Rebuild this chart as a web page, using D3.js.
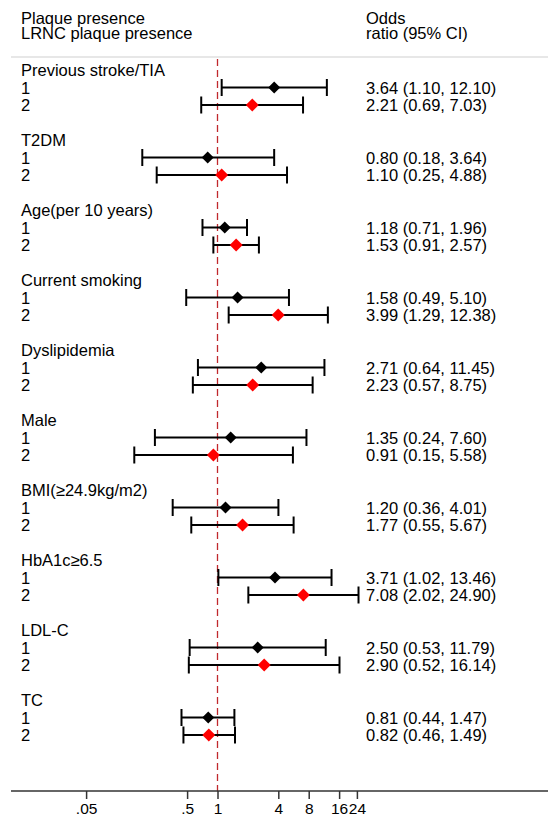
<!DOCTYPE html>
<html>
<head>
<meta charset="utf-8">
<script src="https://cdn.jsdelivr.net/npm/d3@7"></script>
<style>
  body { margin: 0; background: #fff; }
  svg text { font-family: "Liberation Sans", Arial, sans-serif; fill: #000; }
</style>
</head>
<body>
<svg width="548" height="819"></svg>
<script>
// groups and the two models (1 = plaque presence, 2 = LRNC plaque presence)
const groups = ["Previous stroke/TIA", "T2DM", "Age(per 10 years)", "Current smoking",
                "Dyslipidemia", "Male", "BMI(\u226524.9kg/m2)", "HbA1c\u22656.5", "LDL-C", "TC"];
const or1  = [3.64, 0.80, 1.18, 1.58, 2.71, 1.35, 1.20, 3.71, 2.50, 0.81];
const lo1  = [1.10, 0.18, 0.71, 0.49, 0.64, 0.24, 0.36, 1.02, 0.53, 0.44];
const hi1  = [12.10, 3.64, 1.96, 5.10, 11.45, 7.60, 4.01, 13.46, 11.79, 1.47];
const or2  = [2.21, 1.10, 1.53, 3.99, 2.23, 0.91, 1.77, 7.08, 2.90, 0.82];
const lo2  = [0.69, 0.25, 0.91, 1.29, 0.57, 0.15, 0.55, 2.02, 0.52, 0.46];
const hi2  = [7.03, 4.88, 2.57, 12.38, 8.75, 5.58, 5.67, 24.90, 16.14, 1.49];
const tickVals = [0.05, 0.5, 1, 4, 8, 16, 24];
const tickLabels = [".05", ".5", "1", "4", "8", "16", "24"];

const svg = d3.select("svg");
const fs = 16.5;

// x: log scale, y: row slots (4 per group: heading, 1, 2, blank)
const x = d3.scaleLog().domain([0.05, 24]).range([86.1, 356.9]);
const y = d3.scaleLinear().domain([0, 39]).range([70, 70 + 39 * 17.5]);

let rows = [];
groups.forEach((g, i) => {
  rows.push({k: "head", label: g, idx: i * 4});
  rows.push({k: 1, label: "1", idx: i * 4 + 1, or: or1[i], lo: lo1[i], hi: hi1[i]});
  rows.push({k: 2, label: "2", idx: i * 4 + 2, or: or2[i], lo: lo2[i], hi: hi2[i]});
});
const f2 = d3.format(".2f");

// header
svg.append("text").attr("x", 21).attr("y", 24).style("font-size", fs + "px").text("Plaque presence");
svg.append("text").attr("x", 21).attr("y", 39).style("font-size", fs + "px").text("LRNC plaque presence");
svg.append("text").attr("x", 366).attr("y", 24).style("font-size", fs + "px").text("Odds");
svg.append("text").attr("x", 366).attr("y", 39).style("font-size", fs + "px").text("ratio (95% CI)");
svg.append("line").attr("x1", 11).attr("x2", 548).attr("y1", 57).attr("y2", 57)
  .attr("stroke", "#cfcfcf").attr("stroke-width", 1);

// reference line at OR = 1
svg.append("line").attr("x1", x(1)).attr("x2", x(1)).attr("y1", 59).attr("y2", 791)
  .attr("stroke", "#c0282d").attr("stroke-width", 1.3).attr("stroke-dasharray", "7,4");

// labels
svg.selectAll(".lab").data(rows).enter().append("text")
  .attr("class", "lab")
  .attr("x", 21).attr("y", d => y(d.idx) + 6)
  .style("font-size", fs + "px")
  .text(d => d.label);

const est = rows.filter(d => d.k !== "head");

svg.selectAll(".ci").data(est).enter().append("text")
  .attr("class", "ci")
  .attr("x", 366).attr("y", d => y(d.idx) + 6)
  .style("font-size", fs + "px")
  .text(d => f2(d.or) + " (" + f2(d.lo) + ", " + f2(d.hi) + ")");

// CI bars with caps
const bars = svg.append("g").attr("stroke", "#000").attr("stroke-width", 2);
bars.selectAll(".bar").data(est).enter().append("line")
  .attr("x1", d => x(d.lo)).attr("x2", d => x(d.hi))
  .attr("y1", d => y(d.idx)).attr("y2", d => y(d.idx));
bars.selectAll(".capl").data(est).enter().append("line")
  .attr("x1", d => x(d.lo)).attr("x2", d => x(d.lo))
  .attr("y1", d => y(d.idx) - 8.5).attr("y2", d => y(d.idx) + 8.5);
bars.selectAll(".capr").data(est).enter().append("line")
  .attr("x1", d => x(d.hi)).attr("x2", d => x(d.hi))
  .attr("y1", d => y(d.idx) - 8.5).attr("y2", d => y(d.idx) + 8.5);

// diamonds
svg.selectAll(".pt").data(est).enter().append("path")
  .attr("d", d => d3.symbol(d3.symbolSquare, d.k === 1 ? 72 : 84)())
  .attr("transform", d => "translate(" + x(d.or) + "," + y(d.idx) + ") rotate(45)")
  .attr("fill", d => d.k === 1 ? "#000" : "#ff0000");

// x axis
svg.append("line").attr("x1", 11).attr("x2", 548).attr("y1", 791).attr("y2", 791)
  .attr("stroke", "#333").attr("stroke-width", 1.5);
const ax = svg.append("g").attr("transform", "translate(0,791)")
  .call(d3.axisBottom(x).tickValues(tickVals).tickSize(8).tickSizeOuter(0)
    .tickFormat((d, i) => tickLabels[i]));
ax.select(".domain").remove();
ax.selectAll(".tick line").attr("stroke", "#333").attr("stroke-width", 1.5);
ax.selectAll(".tick text").attr("y", 23).attr("dy", 0).style("font-size", "15.5px")
  .style("font-family", "Liberation Sans, Arial, sans-serif").attr("fill", "#000");
</script>
</body>
</html>
